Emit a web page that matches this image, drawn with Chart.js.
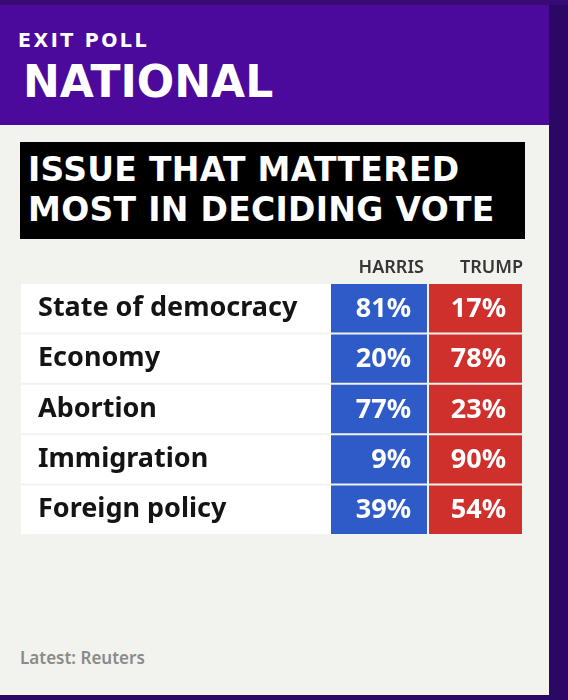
<!DOCTYPE html>
<html>
<head>
<meta charset="utf-8">
<script src="https://cdn.jsdelivr.net/npm/chart.js@4.4.1/dist/chart.umd.min.js"></script>
<style>
  html, body { margin: 0; padding: 0; }
  body { width: 568px; height: 700px; background: #2c0865; position: relative; overflow: hidden; font-family: "Noto Sans", "Open Sans", sans-serif; }
  #topband { position: absolute; left: 0; top: 0; width: 568px; height: 5px; background: #380a76; }
  #header { position: absolute; left: 0; top: 5px; width: 549px; height: 120px; background: #4b0a9c; }
  #panel { position: absolute; left: 0; top: 125px; width: 549px; height: 570px; background: #f2f2ef; }
  .dv { font-family: "DejaVu Sans", sans-serif; font-weight: 700; color: #fff; position: absolute; white-space: nowrap; }
  #kicker { left: 18px; top: 31px; font-size: 19px; line-height: 1; letter-spacing: 2.5px; }
  #title { left: 23px; top: 60px; font-size: 44px; line-height: 1; letter-spacing: 0; }
  #box { position: absolute; left: 20px; top: 142px; width: 505px; height: 97px; background: #000; }
  #boxtext { left: 28px; top: 150px; font-size: 33px; line-height: 40px; letter-spacing: 0.3px; }
  #source { position: absolute; left: 20px; top: 649px; color: #8a8a8a; font-size: 17px; font-weight: 600; line-height: 1; }
  #c { position: absolute; left: 0; top: 0; }
</style>
</head>
<body>
<div id="topband"></div>
<div id="header"></div>
<div id="panel"></div>
<div id="kicker" class="dv">EXIT POLL</div>
<div id="title" class="dv">NATIONAL</div>
<div id="box"></div>
<div id="boxtext" class="dv">ISSUE THAT MATTERED<br>MOST IN DECIDING VOTE</div>
<div id="source">Latest: Reuters</div>
<canvas id="c" width="568" height="700"></canvas>
<script>
// ---- data ----
const issues = ["State of democracy", "Economy", "Abortion", "Immigration", "Foreign policy"];
const candidates = ["HARRIS", "TRUMP"];
const harris = [81, 20, 77, 9, 39];
const trump = [17, 78, 23, 90, 54];

// ---- table column cell edges on the x scale (pixel units of the table width) ----
const colEdges = { label: [0, 310], harris: [310, 406], trump: [408, 501] };
const headerTicks = [colEdges.harris[1] - 3, colEdges.trump[1] + 1];

const FONT = '"Noto Sans", "Open Sans", sans-serif';

const valueLabels = {
  id: 'valueLabels',
  afterDatasetsDraw(chart) {
    const ctx = chart.ctx;
    ctx.save();
    ctx.fillStyle = '#ffffff';
    ctx.font = '700 27px ' + FONT;
    ctx.textAlign = 'right';
    ctx.textBaseline = 'middle';
    const series = [harris, trump];
    [1, 2].forEach((di, k) => {
      const meta = chart.getDatasetMeta(di);
      meta.data.forEach((el, i) => {
        ctx.fillText(series[k][i] + '%', el.x - 16, el.y + 1);
      });
    });
    ctx.restore();
  }
};

new Chart(document.getElementById('c'), {
  type: 'bar',
  data: {
    labels: issues,
    datasets: [
      { label: 'Issue', data: issues.map(() => colEdges.label), backgroundColor: '#ffffff' },
      { label: candidates[0], data: harris.map(() => colEdges.harris), backgroundColor: '#2e5bc8' },
      { label: candidates[1], data: trump.map(() => colEdges.trump), backgroundColor: '#cf302c' }
    ]
  },
  options: {
    responsive: false,
    animation: false,
    indexAxis: 'y',
    layout: { padding: { left: 21, right: 46, top: 253, bottom: 165 } },
    datasets: { bar: { grouped: false, barPercentage: 0.96, categoryPercentage: 1, borderWidth: 0 } },
    plugins: { legend: { display: false }, tooltip: { enabled: false } },
    scales: {
      x: {
        type: 'linear', position: 'top', min: 0, max: 501,
        grid: { display: false, drawTicks: false }, border: { display: false },
        afterFit(s) { s.height = 30; },
        afterBuildTicks(s) { s.ticks = headerTicks.map(v => ({ value: v })); },
        ticks: {
          padding: 4, align: 'end', autoSkip: false, maxRotation: 0,
          color: '#363636',
          font: { family: FONT, size: 18, weight: '600' },
          callback: (v, i) => candidates[i]
        }
      },
      y: {
        type: 'category',
        grid: { display: false, drawTicks: false }, border: { display: false },
        afterFit(s) { s.width = 0; },
        ticks: {
          mirror: true, padding: 17, z: 1, labelOffset: 0, autoSkip: false,
          color: '#141414',
          font: { family: FONT, size: 27, weight: '700' }
        }
      }
    }
  },
  plugins: [valueLabels]
});
</script>
</body>
</html>
